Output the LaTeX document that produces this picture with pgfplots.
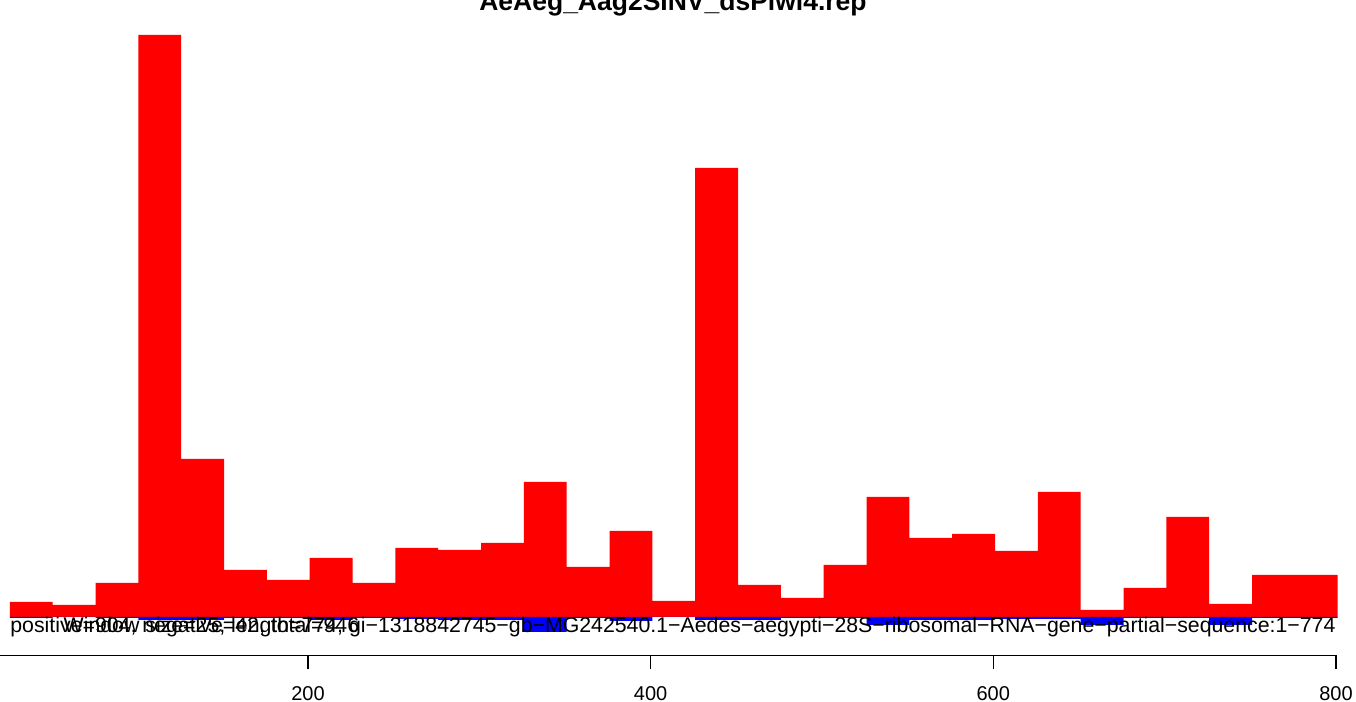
\documentclass[border=0pt]{standalone}
\usepackage{pgfplots}
\pgfplotsset{compat=1.18}
\usepackage{pgfplotstable}
\usepackage{fontspec}
\setmainfont{Liberation Sans}

\pgfplotstableread{
x pos neg
38.5 15 -1
63.5 12 0
88.5 34 -1
113.5 582 -3
138.5 158 -3
163.5 47 -1
188.5 37 -1
213.5 59 -3
238.5 34 -1
263.5 69 -2
288.5 67 -3
313.5 74 -3
338.5 135 -15
363.5 50 -1
388.5 86 -4
413.5 16 0
438.5 449 -3
463.5 32 -3
488.5 19 -1
513.5 52 -1
538.5 120 -8
563.5 79 -3
588.5 83 -3
613.5 66 -2
638.5 125 -2
663.5 7 -8
688.5 29 -1
713.5 100 -1
738.5 13 -8
763.5 42 -1
788.5 42 -1
}\data

\begin{document}
\begin{tikzpicture}
\begin{axis}[
  at={(0,0)}, anchor=south west, scale only axis,
  width=678pt, height=327.75pt,
  xmin=20.24, xmax=811.7, ymin=-38.5, ymax=617,
  axis x line*=bottom, axis y line=none,
  x axis line style={draw=none,-},
  xtick={200,400,600,800}, ytick=\empty,
  tick align=outside, major tick length=7pt,
  xtick style={black, line width=0.75pt},
  xticklabel style={font=\fontsize{10}{12}\selectfont, yshift=-5pt},
  /pgf/number format/assume math mode=true,
  clip=false,
]
\addplot[ybar, bar width=25, bar shift=0pt, draw=none, fill={rgb,255:red,255;green,0;blue,0}] table[x=x,y=pos]{\data};
\addplot[ybar, bar width=25, bar shift=0pt, draw=none, fill={rgb,255:red,0;green,0;blue,255}] table[x=x,y=neg]{\data};
\end{axis}
\draw[line width=0.75pt] (0,0) -- (668pt,0);
\node[anchor=base, font=\fontsize{13.25}{15}\selectfont\bfseries, inner sep=0pt] at (336.5pt,322.25pt) {AeAeg\_Aag2SINV\_dsPiwi4.rep};
\node[anchor=base west, font=\fontsize{10.65}{12}\selectfont, inner sep=0pt] at (5pt,11.75pt) {positive=904, negative=42, total=946};
\node[anchor=base east, font=\fontsize{10.65}{12}\selectfont, inner sep=0pt] at (668pt,11.75pt) {Window size=25, length=774, gi−1318842745−gb−MG242540.1−Aedes−aegypti−28S−ribosomal−RNA−gene−partial−sequence:1−774};
\pgfresetboundingbox
\useasboundingbox (0,-23.25pt) rectangle (678pt,327.75pt);
\end{tikzpicture}
\end{document}
